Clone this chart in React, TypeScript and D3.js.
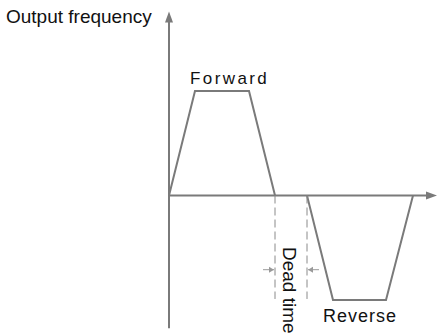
import * as d3 from "d3"

// time (arbitrary units) and output frequency (% of max)
const forwardTime = [0, 26, 80, 106]
const forwardFreq = [0, 100, 100, 0]
const reverseTime = [138, 164, 217, 244]
const reverseFreq = [0, -100, -100, 0]
const deadTime = [106, 138]
const axisLabel = "Output frequency"
const labels = { forward: "Forward", reverse: "Reverse", dead: "Dead time" }

const W = 437
const H = 333
const gray = "#7a7a7a"
const font = "'Liberation Sans', Arial, sans-serif"

export default function App() {
  const x = d3.scaleLinear().domain([0, 268]).range([169, 437])
  const y = d3.scaleLinear().domain([-100, 100]).range([300, 91])

  const line = d3
    .line<[number, number]>()
    .x((d) => x(d[0]))
    .y((d) => y(d[1]))

  const fwd = forwardTime.map((t, i) => [t, forwardFreq[i]] as [number, number])
  const rev = reverseTime.map((t, i) => [t, reverseFreq[i]] as [number, number])

  const x0 = x(0)
  const y0 = y(0)
  const yTop = y(176)
  const yBottom = y(-127)
  const xEnd = x(268)
  const arrowY = y(-71)
  const dl = x(deadTime[0])
  const dr = x(deadTime[1])

  return (
    <svg
      width={W}
      height={H}
      style={{ position: "absolute", left: 0, top: 0, background: "#fff" }}
      fontFamily={font}
    >
      {/* axes */}
      <line x1={x0} x2={x0} y1={yBottom} y2={yTop + 8} stroke={gray} strokeWidth={2} />
      <path d={`M${x0},${yTop} L${x0 - 4},${yTop + 11} L${x0 + 4},${yTop + 11} Z`} fill={gray} />
      <line x1={x0} x2={xEnd - 8} y1={y0} y2={y0} stroke={gray} strokeWidth={2} />
      <path d={`M${xEnd},${y0} L${xEnd - 11},${y0 - 4} L${xEnd - 11},${y0 + 4} Z`} fill={gray} />

      {/* frequency profile */}
      <path d={line(fwd) ?? ""} fill="none" stroke={gray} strokeWidth={2} />
      <path d={line(rev) ?? ""} fill="none" stroke={gray} strokeWidth={2} />

      {/* dead time markers */}
      {deadTime.map((t) => (
        <line
          key={t}
          x1={x(t)}
          x2={x(t)}
          y1={y0}
          y2={y(-99)}
          stroke="#8a8a8a"
          strokeWidth={1}
          strokeDasharray="8,4"
        />
      ))}
      <line x1={dl - 12} x2={dl - 1} y1={arrowY} y2={arrowY} stroke="#9a9a9a" />
      <path d={`M${dl - 1},${arrowY} L${dl - 6},${arrowY - 3} L${dl - 6},${arrowY + 3} Z`} fill="#9a9a9a" />
      <line x1={dr + 1} x2={dr + 12} y1={arrowY} y2={arrowY} stroke="#9a9a9a" />
      <path d={`M${dr + 1},${arrowY} L${dr + 6},${arrowY - 3} L${dr + 6},${arrowY + 3} Z`} fill="#9a9a9a" />

      {/* labels */}
      <text x={6} y={23} fontSize={19} fill="#111">
        {axisLabel}
      </text>
      <text x={190} y={83.5} fontSize={17} fill="#111" letterSpacing={2.4}>
        {labels.forward}
      </text>
      <text x={323} y={321.5} fontSize={18} fill="#111" letterSpacing={1}>
        {labels.reverse}
      </text>
      <text transform={`translate(283,247) rotate(90)`} fontSize={19} fill="#111">
        {labels.dead}
      </text>
    </svg>
  )
}
